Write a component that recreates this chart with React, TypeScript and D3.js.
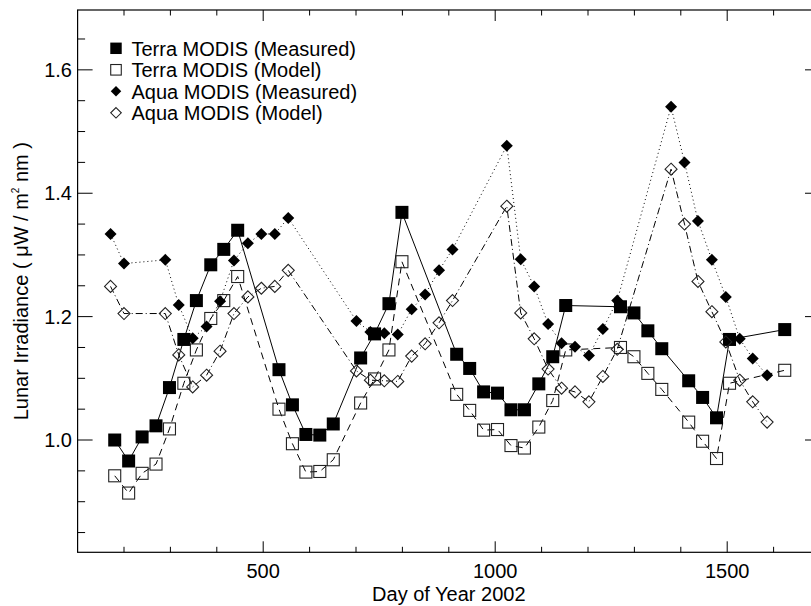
import React from "react";
import * as d3 from "d3";

const terraDays = [180,210,239,269,298,329,356,387,415,445,534,563,592,622,651,710,740,771,799,917,945,975,1005,1034,1063,1094,1124,1152,1270,1299,1329,1359,1417,1447,1477,1505,1624];
const terraMeasured = [1.00,0.966,1.005,1.023,1.085,1.163,1.226,1.284,1.309,1.340,1.114,1.057,1.009,1.008,1.026,1.133,1.172,1.221,1.369,1.139,1.116,1.078,1.076,1.049,1.049,1.091,1.135,1.218,1.216,1.206,1.177,1.148,1.096,1.069,1.036,1.163,1.179];
const terraModel = [0.942,0.914,0.946,0.961,1.018,1.092,1.146,1.197,1.226,1.265,1.050,0.994,0.948,0.949,0.968,1.060,1.099,1.146,1.289,1.074,1.048,1.016,1.017,0.991,0.987,1.021,1.064,1.146,1.150,1.135,1.108,1.082,1.029,0.998,0.970,1.092,1.113];

const aquaDays = [171,200,289,318,348,378,407,437,467,496,525,554,701,731,761,790,820,849,879,908,1025,1055,1084,1114,1143,1172,1202,1232,1263,1379,1408,1437,1467,1497,1527,1555,1586];
const aquaMeasured = [1.334,1.286,1.292,1.219,1.165,1.184,1.225,1.291,1.319,1.334,1.334,1.360,1.193,1.175,1.173,1.171,1.212,1.236,1.275,1.309,1.477,1.293,1.249,1.188,1.157,1.151,1.137,1.180,1.226,1.540,1.450,1.355,1.292,1.232,1.164,1.132,1.105];
const aquaModel = [1.249,1.205,1.205,1.138,1.086,1.105,1.144,1.205,1.232,1.246,1.249,1.275,1.112,1.097,1.096,1.095,1.136,1.156,1.190,1.226,1.379,1.206,1.164,1.115,1.084,1.078,1.062,1.103,1.147,1.439,1.350,1.257,1.208,1.159,1.097,1.062,1.029];

const xMajorTicks = [500, 1000, 1500];
const yMajorTicks = [1.0, 1.2, 1.4, 1.6];
const legendLabels = ["Terra MODIS (Measured)", "Terra MODIS (Model)", "Aqua MODIS (Measured)", "Aqua MODIS (Model)"];

const W = 811, H = 606;
const FONT = "'Liberation Sans', Arial, sans-serif";

export default function App() {
  const x = d3.scaleLinear().domain([100, 1700]).range([77.6, 820]);
  const y = d3.scaleLinear().domain([0.818, 1.697]).range([552.3, 10]);
  const [x0, x1] = x.range();
  const [y0, y1] = y.range();

  const xMinor = d3.range(200, 1700, 100).filter((v) => !xMajorTicks.includes(v));
  const yMinor = d3.range(0.85, 1.7, 0.05).filter((v) => !yMajorTicks.some((m) => Math.abs(m - v) < 1e-6));

  const line = d3.line<[number, number]>().x((d) => x(d[0])).y((d) => y(d[1]));
  const pts = (days: number[], vals: number[]) => days.map((d, i) => [d, vals[i]] as [number, number]);

  const series = [
    { data: pts(terraDays, terraMeasured), dash: "none", marker: "sq", fill: true },
    { data: pts(terraDays, terraModel), dash: "7,5", marker: "sq", fill: false },
    { data: pts(aquaDays, aquaMeasured), dash: "1,3", marker: "di", fill: true },
    { data: pts(aquaDays, aquaModel), dash: "7,3,1,3", marker: "di", fill: false },
  ];

  const marker = (type: string, fill: boolean, cx: number, cy: number, key: any, s = 1) => {
    if (type === "sq") {
      const h = (fill ? 6.5 : 6) * s;
      return (
        <rect key={key} x={cx - h} y={cy - h} width={2 * h} height={2 * h}
          fill={fill ? "#000" : "none"} stroke={fill ? "none" : "#222"} strokeWidth={1.1} />
      );
    }
    const r = 6 * s;
    return (
      <path key={key} d={`M${cx},${cy - r}L${cx + r},${cy}L${cx},${cy + r}L${cx - r},${cy}Z`}
        fill={fill ? "#000" : "none"} stroke={fill ? "none" : "#222"} strokeWidth={1.1} />
    );
  };

  const xMajLen = 11, xMinLen = 5.5, yMajLen = 15, yMinLen = 7.5;

  return (
    <svg width={W} height={H} style={{ position: "absolute", left: 0, top: 0, background: "#fff" }}
      fontFamily={FONT}>
      <rect x={0} y={0} width={W} height={H} fill="#fff" />
      {series.map((s, i) => (
        <path key={"l" + i} d={line(s.data) || ""} fill="none" stroke="#000" strokeWidth={1}
          strokeDasharray={s.dash === "none" ? undefined : s.dash} />
      ))}
      {series.map((s, i) => (
        <g key={"m" + i}>
          {s.data.map((d, j) => marker(s.marker, s.fill, x(d[0]), y(d[1]), j))}
        </g>
      ))}
      <rect x={x0} y={y1} width={x1 - x0} height={y0 - y1} fill="none" stroke="#000" strokeWidth={1.2} />
      {xMajorTicks.map((v) => (
        <g key={"xt" + v}>
          <line x1={x(v)} x2={x(v)} y1={y0} y2={y0 - xMajLen} stroke="#000" />
          <line x1={x(v)} x2={x(v)} y1={y1} y2={y1 + xMajLen} stroke="#000" />
          <text x={x(v)} y={578} textAnchor="middle" fontSize={20}>{v}</text>
        </g>
      ))}
      {xMinor.map((v) => (
        <g key={"xm" + v}>
          <line x1={x(v)} x2={x(v)} y1={y0} y2={y0 - xMinLen} stroke="#000" />
          <line x1={x(v)} x2={x(v)} y1={y1} y2={y1 + xMinLen} stroke="#000" />
        </g>
      ))}
      {yMajorTicks.map((v) => (
        <g key={"yt" + v}>
          <line x1={x0} x2={x0 + yMajLen} y1={y(v)} y2={y(v)} stroke="#000" />
          <line x1={x1} x2={x1 - yMajLen} y1={y(v)} y2={y(v)} stroke="#000" />
          <text x={72} y={y(v)} dy="0.36em" textAnchor="end" fontSize={20}>{v.toFixed(1)}</text>
        </g>
      ))}
      {yMinor.map((v) => (
        <g key={"ym" + v.toFixed(2)}>
          <line x1={x0} x2={x0 + yMinLen} y1={y(v)} y2={y(v)} stroke="#000" />
          <line x1={x1} x2={x1 - yMinLen} y1={y(v)} y2={y(v)} stroke="#000" />
        </g>
      ))}
      <text x={(x0 + x1) / 2} y={601} textAnchor="middle" fontSize={20}>Day of Year 2002</text>
      <text transform={`translate(28,${(y0 + y1) / 2}) rotate(-90)`} textAnchor="middle" fontSize={20}>
        Lunar Irradiance ( μW / m<tspan fontSize={10} dy={-9}>2</tspan><tspan dy={9}> nm )</tspan>
      </text>
      {legendLabels.map((lab, i) => {
        const ly = 48.3 + i * 21.5;
        const s = series[i];
        return (
          <g key={"lg" + i}>
            {marker(s.marker, s.fill, 116, ly, "lm" + i, 0.88)}
            <text x={131.5} y={ly} dy="0.36em" fontSize={20}>{lab}</text>
          </g>
        );
      })}
    </svg>
  );
}
